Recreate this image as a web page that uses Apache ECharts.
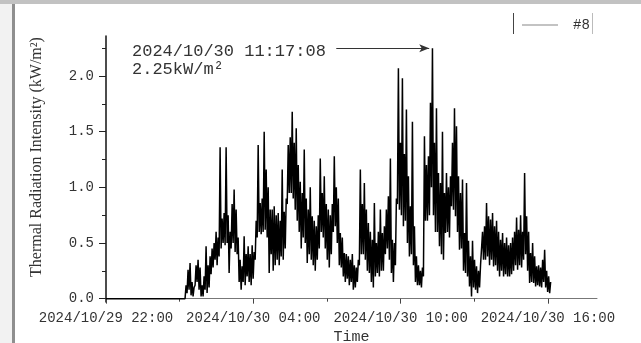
<!DOCTYPE html>
<html>
<head>
<meta charset="utf-8">
<script src="https://cdn.jsdelivr.net/npm/echarts@6/dist/echarts.min.js"></script>
<style>
  html, body { margin: 0; padding: 0; background: #fff; }
  #chart { width: 641px; height: 343px; }
</style>
</head>
<body>
<div id="chart"></div>
<script>
// 时间：从 2024/10/29 22:00 起算的小时数
const baseTime = new Date(2024, 9, 29, 22, 0, 0)
const axisMaxHour = 20
const majorHours = [0, 6, 12, 18]
const minorHours = [3, 9, 15]
const yMajor = [0, 0.5, 1.0, 1.5, 2.0]
const yMinor = [0.25, 0.75, 1.25, 1.75, 2.25]

// 夜间无辐射段
const quietStart = 0
const riseHour = 3.22
// 每个采样窗口（约 4.9 分钟）内的最小值 / 最大值
const stepHour = 0.0816
const lowVals = [
  0.00, 0.05, 0.08, 0.03, 0.02, 0.12, 0.15, 0.08, 0.02, 0.02,
  0.08, 0.05, 0.10, 0.22, 0.28, 0.35, 0.30, 0.38, 0.45, 0.50,
  0.48, 0.50, 0.23, 0.45, 0.50, 0.42, 0.40, 0.15, 0.08, 0.15,
  0.12, 0.20, 0.15, 0.12, 0.18, 0.35, 0.55, 0.60, 0.58, 0.60,
  0.62, 0.55, 0.23, 0.40, 0.25, 0.30, 0.35, 0.30, 0.38, 0.35,
  0.45, 0.85, 0.95, 0.95, 0.90, 0.80, 0.70, 0.60, 0.45, 0.55,
  0.50, 0.32, 0.40, 0.35, 0.30, 0.25, 0.35, 0.45, 0.60, 0.55,
  0.45, 0.35, 0.28, 0.40, 0.60, 0.65, 0.50, 0.30, 0.28, 0.20,
  0.15, 0.18, 0.12, 0.15, 0.08, 0.10, 0.15, 0.30, 0.40, 0.40,
  0.35, 0.25, 0.23, 0.15, 0.10, 0.20, 0.23, 0.20, 0.25, 0.25,
  0.40, 0.45, 0.35, 0.23, 0.15, 0.30, 0.85, 0.80, 0.75, 0.65,
  0.70, 0.50, 0.38, 0.40, 0.30, 0.15, 0.12, 0.12, 0.10, 0.20,
  0.70, 0.70, 0.75, 1.00, 0.75, 0.60, 0.60, 0.47, 0.40, 0.35,
  0.59, 0.60, 0.55, 0.83, 0.80, 0.74, 0.60, 0.44, 0.45, 0.25,
  0.23, 0.20, 0.11, 0.02, 0.10, 0.08, 0.05, 0.10, 0.30, 0.35,
  0.35, 0.38, 0.30, 0.35, 0.29, 0.30, 0.25, 0.20, 0.25, 0.20,
  0.22, 0.20, 0.20, 0.22, 0.25, 0.30, 0.26, 0.30, 0.28, 0.35,
  0.40, 0.25, 0.14, 0.15, 0.14, 0.11, 0.12, 0.11, 0.10, 0.15,
  0.10, 0.06, 0.05
]
const highVals = [
  0.12, 0.26, 0.32, 0.15, 0.10, 0.30, 0.35, 0.28, 0.12, 0.20,
  0.47, 0.30, 0.38, 0.45, 0.50, 0.60, 0.55, 1.36, 0.72, 0.77,
  1.36, 0.75, 0.60, 0.85, 0.98, 0.80, 0.55, 0.35, 0.29, 0.56,
  0.40, 0.47, 0.40, 0.48, 0.42, 0.70, 1.38, 0.86, 0.90, 1.50,
  1.16, 1.00, 0.80, 0.80, 0.83, 0.75, 0.77, 0.70, 1.16, 0.78,
  0.90, 1.38, 1.45, 1.68, 1.40, 1.53, 1.20, 1.05, 0.95, 1.34,
  0.90, 0.80, 1.00, 0.74, 0.70, 0.65, 0.75, 1.26, 0.95, 1.10,
  0.85, 0.80, 0.75, 0.85, 1.28, 1.00, 0.90, 0.59, 0.55, 0.41,
  0.40, 0.38, 0.35, 0.40, 0.30, 0.28, 0.35, 1.16, 0.85, 1.04,
  0.80, 0.68, 0.60, 0.53, 0.86, 0.50, 0.60, 0.80, 0.59, 0.65,
  0.80, 0.92, 1.26, 0.53, 0.50, 0.90, 2.07, 1.40, 1.98, 1.30,
  1.70, 1.10, 0.83, 1.59, 0.65, 0.38, 0.30, 0.25, 0.28, 1.46,
  1.20, 1.28, 1.76, 2.25, 1.40, 1.71, 1.13, 1.04, 1.50, 0.95,
  1.13, 1.00, 1.10, 1.40, 1.71, 1.55, 1.10, 0.95, 1.07, 0.59,
  1.04, 0.52, 0.38, 0.52, 0.35, 0.29, 0.25, 0.30, 0.60, 0.65,
  0.86, 0.74, 0.71, 0.77, 0.65, 0.70, 0.60, 0.53, 0.59, 0.50,
  0.55, 0.48, 0.50, 0.55, 0.60, 0.73, 0.62, 0.75, 0.60, 1.13,
  0.74, 0.60, 0.41, 0.50, 0.38, 0.29, 0.30, 0.28, 0.35, 0.44,
  0.25, 0.20, 0.15
]

// 峰值标注
const peakHour = 13.2856
const peakValue = 2.25
const peakLabel = '2024/10/30 11:17:08'
const arrowFromHour = 9.38

const pad = (n) => (n < 10 ? '0' + n : '' + n)
const hourLabel = (h) => {
  const d = new Date(baseTime.getTime() + h * 3600 * 1000)
  return d.getFullYear() + '/' + (d.getMonth() + 1) + '/' + d.getDate() +
    ' ' + pad(d.getHours()) + ':' + pad(d.getMinutes())
}

const seriesData = [[quietStart, 0], [riseHour, 0]]
lowVals.forEach((lo, i) => {
  const t = riseHour + i * stepHour
  seriesData.push([t, lo])
  seriesData.push([t + stepHour / 2, highVals[i]])
})

const mono = 'Liberation Mono'
const textColor = '#333'
const chart = echarts.init(document.getElementById('chart'), null, { renderer: 'canvas' })

const option = {
  animation: false,
  backgroundColor: '#fff',
  grid: { left: 106, right: 44, top: 36, bottom: 41, outerBoundsMode: 'none' },
  legend: {
    data: ['#8'],
    left: 517,
    top: 13,
    icon: 'rect',
    itemWidth: 36,
    itemHeight: 1,
    itemGap: 4,
    itemStyle: { color: '#888' },
    textStyle: { fontFamily: mono, fontSize: 14, color: textColor, padding: [0, 0, 0, 10] }
  },
  xAxis: [
    {
      type: 'value',
      min: 0,
      max: axisMaxHour,
      position: 'bottom',
      name: 'Time',
      nameLocation: 'middle',
      nameGap: 24,
      nameTextStyle: { fontFamily: mono, fontSize: 15, color: textColor },
      axisLine: { lineStyle: { color: '#777', width: 1 } },
      axisTick: { customValues: majorHours, length: 5, lineStyle: { color: '#444' } },
      axisLabel: {
        customValues: majorHours,
        margin: 9,
        fontFamily: mono,
        fontSize: 14,
        color: textColor,
        formatter: (v) => hourLabel(v)
      },
      splitLine: { show: false }
    },
    {
      type: 'value',
      min: 0,
      max: axisMaxHour,
      position: 'bottom',
      axisLine: { show: false },
      axisTick: { customValues: minorHours, length: 3, lineStyle: { color: '#444' } },
      axisLabel: { show: false },
      splitLine: { show: false }
    }
  ],
  yAxis: [
    {
      type: 'value',
      min: -0.03,
      max: 2.36,
      axisLine: { show: true, lineStyle: { color: '#111', width: 1.5 } },
      axisTick: { show: true, customValues: yMajor, length: 7, lineStyle: { color: '#222' } },
      axisLabel: {
        customValues: yMajor,
        margin: 12,
        fontFamily: mono,
        fontSize: 14,
        color: textColor,
        formatter: (v) => v.toFixed(1)
      },
      splitLine: { show: false }
    },
    {
      type: 'value',
      min: -0.03,
      max: 2.36,
      position: 'left',
      axisLine: { show: false },
      axisTick: { show: true, customValues: yMinor, length: 4, lineStyle: { color: '#222' } },
      axisLabel: { show: false },
      splitLine: { show: false }
    }
  ],
  series: [
    {
      name: '#8',
      type: 'line',
      xAxisIndex: 0,
      yAxisIndex: 0,
      data: seriesData,
      symbol: 'none',
      sampling: 'none',
      lineStyle: { color: '#000', width: 1.5, join: 'bevel' },
      itemStyle: { color: '#000' },
      markLine: {
        silent: true,
        animation: false,
        label: { show: false },
        lineStyle: { color: '#333', width: 1, type: 'solid' },
        symbolSize: [6, 10],
        data: [[
          { coord: [arrowFromHour, peakValue], symbol: 'none' },
          { coord: [peakHour - 0.12, peakValue], symbol: 'arrow' }
        ]]
      }
    }
  ],
  graphic: [
    // 外框
    { type: 'rect', shape: { x: 0, y: 0, width: 12, height: 343 }, style: { fill: '#f2f2f2' }, silent: true },
    { type: 'rect', shape: { x: 12, y: 0, width: 3, height: 343 }, style: { fill: '#8f8f8f' }, silent: true },
    { type: 'rect', shape: { x: 0, y: 0, width: 641, height: 4 }, style: { fill: '#c2c2c2' }, silent: true },
    // 图例框
    { type: 'line', shape: { x1: 513.5, y1: 13, x2: 513.5, y2: 34 }, style: { stroke: '#444', lineWidth: 1 }, silent: true },
    { type: 'line', shape: { x1: 592.5, y1: 13, x2: 592.5, y2: 34 }, style: { stroke: '#bbb', lineWidth: 1 }, silent: true },
    // 纵轴标题
    {
      type: 'text',
      x: 37,
      y: 157,
      rotation: Math.PI / 2,
      style: {
        text: 'Thermal Radiation Intensity (kW/m²)',
        fontFamily: 'Liberation Serif',
        fontSize: 16,
        fill: textColor,
        align: 'center',
        verticalAlign: 'middle'
      },
      silent: true
    },
    // 峰值文字
    {
      type: 'text',
      x: 132,
      y: 42,
      style: {
        text: peakLabel + '\n' + peakValue.toFixed(2) + 'kW/m²',
        fontFamily: mono,
        fontSize: 17,
        lineHeight: 18,
        fill: textColor
      },
      silent: true
    }
  ]
}

chart.setOption(option)
</script>
</body>
</html>
